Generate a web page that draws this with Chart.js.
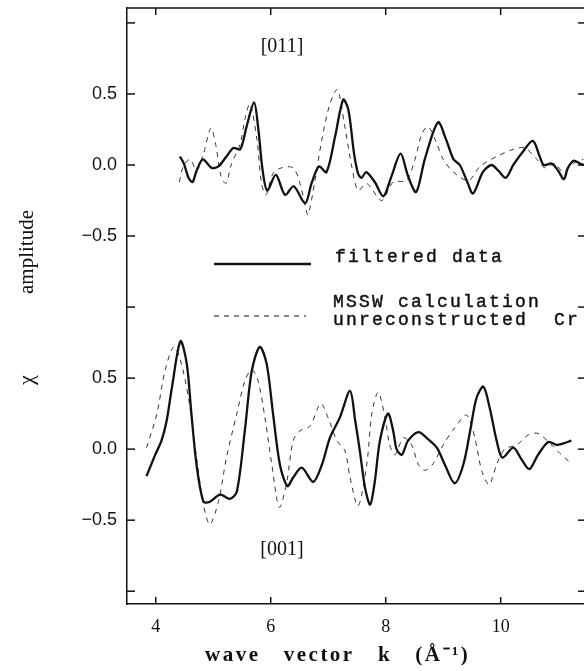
<!DOCTYPE html>
<html><head><meta charset="utf-8">
<script src="https://cdn.jsdelivr.net/npm/chart.js@4/dist/chart.umd.min.js"></script>
<style>html,body{margin:0;padding:0;background:#fff}#wrap{width:584px;height:671px;position:relative}</style>
</head><body><div id="wrap"><canvas id="c" width="584" height="671"></canvas></div>
<script>
// ---- data (k in 1/Å, chi amplitude) ----
const panelOffset = 2.0; // [011] panel is drawn 2.0 units above [001]
const xTickValues = [4, 6, 8, 10];
const yTickValues = [-1, -0.5, 0, 0.5, 1, 1.5, 2, 2.5, 3];
const yTickLabels = {"-0.5":"\u22120.5","0":"0.0","0.5":"0.5","1.5":"\u22120.5","2":"0.0","2.5":"0.5"};

// [011] filtered data
const k011Filtered = [4.42,4.49,4.57,4.64,4.71,4.82,4.97,5.09,5.23,5.35,5.47,5.58,5.71,5.78,5.86,5.94,6.09,6.25,6.40,6.60,6.71,6.84,6.97,7.12,7.26,7.35,7.45,7.52,7.58,7.66,7.81,7.96,8.10,8.26,8.39,8.53,8.68,8.91,9.05,9.18,9.29,9.41,9.52,9.69,9.84,9.96,10.09,10.22,10.38,10.56,10.68,10.75,10.89,11.00,11.10,11.17,11.27,11.38,11.45];
const chi011Filtered = [0.06,0.01,-0.09,-0.12,-0.04,0.04,-0.02,-0.01,0.06,0.12,0.11,0.27,0.44,0.27,-0.04,-0.18,-0.07,-0.21,-0.15,-0.27,-0.13,-0.01,-0.05,0.20,0.46,0.39,0.08,-0.06,-0.09,-0.05,-0.12,-0.22,-0.08,0.08,-0.08,-0.19,0.04,0.30,0.18,0.04,0.0,-0.11,-0.20,-0.05,0.0,-0.04,-0.09,0.0,0.09,0.17,0.06,0.0,0.01,-0.04,-0.10,-0.02,0.03,0.01,0.0];
// [011] MSSW calculation
const k011Calc = [4.41,4.48,4.60,4.71,4.83,4.96,5.05,5.13,5.22,5.32,5.47,5.55,5.64,5.76,5.84,5.92,6.04,6.19,6.39,6.51,6.60,6.65,6.77,6.89,7.03,7.16,7.29,7.41,7.52,7.67,7.93,8.13,8.36,8.51,8.63,8.74,8.89,9.00,9.18,9.44,9.64,9.93,10.22,10.42,10.63,10.77,10.94,11.09,11.26,11.44];
const chi011Calc = [-0.12,-0.01,0.04,-0.04,0.08,0.26,0.13,-0.07,-0.13,0.01,0.15,0.32,0.43,0.18,-0.13,-0.21,-0.06,-0.02,-0.02,-0.13,-0.29,-0.35,-0.11,0.18,0.43,0.53,0.27,-0.01,-0.18,-0.13,-0.25,-0.12,-0.11,0.04,0.22,0.27,0.15,0.04,-0.05,-0.11,-0.01,0.06,0.11,0.12,0.04,-0.02,0.01,-0.05,0.01,0.04];
// [001] filtered data
const k001Filtered = [3.84,3.99,4.10,4.19,4.28,4.43,4.54,4.62,4.71,4.83,4.94,5.12,5.29,5.41,5.55,5.67,5.81,5.93,6.04,6.16,6.29,6.39,6.54,6.74,6.89,7.03,7.20,7.38,7.47,7.55,7.64,7.73,7.81,7.90,8.04,8.13,8.19,8.28,8.39,8.57,8.71,8.89,9.03,9.20,9.35,9.47,9.58,9.70,9.81,9.93,10.03,10.22,10.36,10.50,10.65,10.83,10.97,11.09,11.23];
const chi001Filtered = [-0.19,-0.04,0.06,0.20,0.43,0.76,0.60,0.25,-0.11,-0.37,-0.37,-0.32,-0.35,-0.30,0.13,0.55,0.72,0.60,0.25,-0.11,-0.26,-0.20,-0.13,-0.23,-0.11,0.08,0.22,0.41,0.20,-0.01,-0.27,-0.39,-0.23,0.06,0.25,0.13,0.0,-0.04,0.06,0.12,0.08,0.01,-0.11,-0.24,-0.11,0.13,0.36,0.44,0.29,0.06,-0.06,0.01,-0.07,-0.14,-0.04,0.05,0.03,0.04,0.06];
// [001] MSSW calculation
const k001Calc = [3.84,4.02,4.16,4.31,4.42,4.57,4.71,4.83,4.94,5.09,5.23,5.41,5.55,5.67,5.78,5.90,6.02,6.15,6.28,6.39,6.51,6.68,6.87,7.00,7.15,7.29,7.38,7.52,7.67,7.76,7.87,7.99,8.07,8.16,8.31,8.45,8.57,8.68,8.83,9.00,9.20,9.41,9.55,9.67,9.80,9.93,10.07,10.28,10.48,10.65,10.86,11.03,11.20];
const chi001Calc = [0.01,0.25,0.55,0.72,0.64,0.36,-0.06,-0.39,-0.53,-0.37,-0.06,0.25,0.48,0.56,0.48,0.22,-0.11,-0.41,-0.23,0.06,0.13,0.16,0.32,0.22,0.06,-0.01,-0.20,-0.40,-0.11,0.25,0.40,0.22,0.03,-0.04,0.08,0.03,-0.11,-0.15,-0.10,0.03,0.15,0.24,0.08,-0.15,-0.25,-0.11,0.0,0.03,0.10,0.11,0.04,-0.03,-0.09];

const legendLabels = ["filtered data", "MSSW calculation", "unreconstructed  Cr"];
const panelLabels = ["[011]", "[001]"];
const xTitle = "wave   vector   k   (\u00C5\u207B\u00B9)";

function pts(ks, chis, off){ return ks.map((k,i)=>({x:k, y:chis[i]+off})); }

const solid = {borderColor:'#111', borderWidth:2.3, pointRadius:0, tension:0.3, fill:false};
const dashed = {borderColor:'#333', borderWidth:1, borderDash:[5,5], pointRadius:0, tension:0.3, fill:false};

const frame = {
  id:'frame',
  afterDraw(chart){
    const {ctx, chartArea:a, scales:{x, y}} = chart;
    ctx.save();
    ctx.strokeStyle = '#111'; ctx.lineWidth = 1.5;
    const line=(x1,y1,x2,y2)=>{ctx.beginPath();ctx.moveTo(x1,y1);ctx.lineTo(x2,y2);ctx.stroke();};
    line(a.left, a.top, a.right, a.top);
    yTickValues.forEach(v=>{const p=y.getPixelForValue(v); line(a.left,p,a.left+8,p); line(a.right,p,a.right-6,p);});
    xTickValues.forEach(v=>{const p=x.getPixelForValue(v); line(p,a.bottom,p,a.bottom-7); line(p,a.top,p,a.top+7);});
    // legend
    ctx.lineWidth = 2.3; line(214, 264, 311, 264);
    ctx.lineWidth = 1; ctx.setLineDash([5,5]); line(214, 316, 306, 316); ctx.setLineDash([]);
    ctx.fillStyle = '#111';
    ctx.font = '18px "Liberation Mono"';
    ctx.textBaseline = 'middle'; ctx.textAlign = 'left';
    ctx.letterSpacing = '2.2px';
    ctx.lineWidth = 0.45;
    const txt=(s,tx,ty)=>{ctx.fillText(s,tx,ty); ctx.strokeText(s,tx,ty);};
    txt(legendLabels[0], 335, 257);
    txt(legendLabels[1], 333, 302);
    txt(legendLabels[2], 333, 320);
    // x title
    ctx.letterSpacing = '2.5px';
    ctx.font = 'bold 21px "Liberation Serif"';
    ctx.textBaseline = 'alphabetic';
    ctx.fillText(xTitle, 205, 661);
    ctx.letterSpacing = '0px';
    ctx.lineWidth = 1.5;
    // panel labels
    ctx.textBaseline = 'middle';
    ctx.font = '20px "Liberation Serif"'; ctx.textAlign = 'center';
    ctx.fillText(panelLabels[0], 282, 47);
    ctx.fillText(panelLabels[1], 282, 550);
    // y title
    ctx.save();
    ctx.translate(27, 0); ctx.rotate(-Math.PI/2);
    ctx.font = '21px "Liberation Serif"';
    ctx.fillText('amplitude', -252, 0);
    ctx.font = '22px "Liberation Serif"';
    ctx.fillText('\u03C7', -380, 0);
    ctx.restore();
    ctx.restore();
  }
};

new Chart(document.getElementById('c'), {
  type:'line',
  data:{datasets:[
    {label:'[011] filtered data', data:pts(k011Filtered, chi011Filtered, panelOffset), ...solid},
    {label:'[011] MSSW calculation', data:pts(k011Calc, chi011Calc, panelOffset), ...dashed},
    {label:'[001] filtered data', data:pts(k001Filtered, chi001Filtered, 0), ...solid},
    {label:'[001] MSSW calculation', data:pts(k001Calc, chi001Calc, 0), ...dashed}
  ]},
  options:{
    responsive:false, animation:false, devicePixelRatio:1,
    layout:{padding:{top:8, right:0, left:0, bottom:0}},
    plugins:{legend:{display:false}, tooltip:{enabled:false}},
    scales:{
      x:{type:'linear', min:3.5, max:11.45,
        grid:{display:false, drawTicks:false},
        border:{display:true, color:'#111', width:1.5},
        afterBuildTicks:s=>{s.ticks = xTickValues.map(v=>({value:v}));},
        afterFit:s=>{s.height = 67; s.paddingLeft = 0; s.paddingRight = 0;},
        ticks:{color:'#111', padding:12, font:{family:'"Liberation Serif"', size:18}, maxRotation:0, callback:v=>String(v)},
        title:{display:false}
      },
      y:{type:'linear', min:-1.09, max:3.105,
        grid:{display:false, drawTicks:false},
        border:{display:true, color:'#111', width:1.5},
        afterBuildTicks:s=>{s.ticks = yTickValues.map(v=>({value:v}));},
        afterFit:s=>{s.width = 127; s.paddingTop = 0; s.paddingBottom = 0;},
        ticks:{color:'#111', padding:10, font:{family:'"Liberation Sans"', size:18}, callback:v=>yTickLabels[String(v)] || ''}
      }
    }
  },
  plugins:[frame]
});
</script></body></html>
